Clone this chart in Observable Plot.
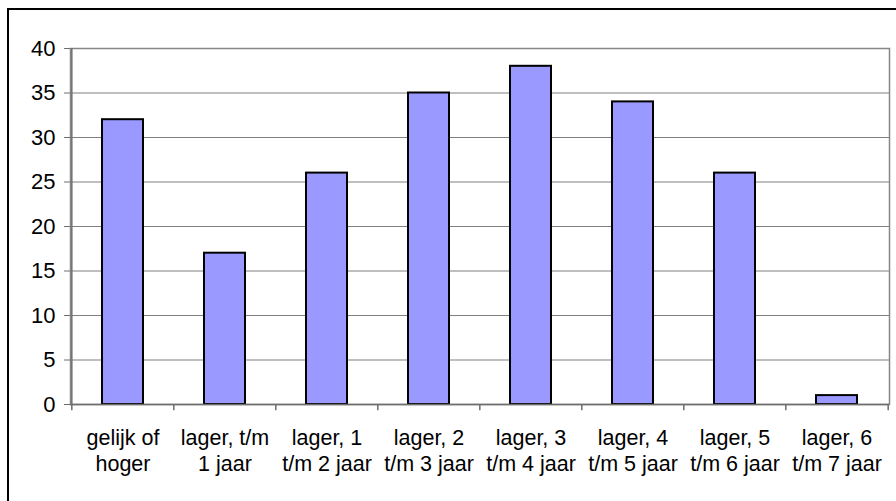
<!DOCTYPE html>
<html>
<head>
<meta charset="utf-8">
<script src="https://cdn.jsdelivr.net/npm/d3@7"></script>
<script src="https://cdn.jsdelivr.net/npm/@observablehq/plot@0.6"></script>
<style>
  html, body { margin: 0; padding: 0; background: #fff; overflow: hidden; }
  #wrap { position: relative; width: 896px; height: 501px; overflow: hidden; }
  #border { position: absolute; left: 7px; top: 8px; width: 1000px; height: 1000px;
            border-left: 2px solid #000; border-top: 2px solid #000; }
  #chart { position: absolute; left: 0; top: 0; }
</style>
</head>
<body>
<div id="wrap"><div id="border"></div><div id="chart"></div></div>
<script>
const categories = [
  "gelijk of\nhoger",
  "lager, t/m\n1 jaar",
  "lager, 1\nt/m 2 jaar",
  "lager, 2\nt/m 3 jaar",
  "lager, 3\nt/m 4 jaar",
  "lager, 4\nt/m 5 jaar",
  "lager, 5\nt/m 6 jaar",
  "lager, 6\nt/m 7 jaar"
];
const values = [32, 17, 26, 35, 38, 34, 26, 1];
const yTicks = [0, 5, 10, 15, 20, 25, 30, 35, 40];

const data = categories.map((c, i) => ({category: c, value: values[i]}));

const width = 896, height = 501;
const marginLeft = 70, marginRight = 7, marginTop = 48, marginBottom = 97;
const step = (width - marginLeft - marginRight) / categories.length;

const chart = Plot.plot({
  width, height, marginLeft, marginRight, marginTop, marginBottom,
  style: {fontFamily: "'Liberation Sans', Arial, sans-serif", fontSize: "21.5px", color: "#000", background: "transparent"},
  x: {domain: categories, paddingInner: 0.6, paddingOuter: 0.3, label: null},
  y: {domain: [0, 40], ticks: yTicks, label: null},
  marks: [
    Plot.ruleY(yTicks.filter(d => d > 0), {stroke: "#808080", strokeWidth: 1.2}),
    Plot.frame({stroke: "#868686", strokeWidth: 1.5}),
    Plot.barY(data, {x: "category", y: "value", fill: "#9999ff", stroke: "#000", strokeWidth: 2}),
    Plot.ruleY([0], {stroke: "#6e6e6e", strokeWidth: 1.5}),
    Plot.ruleX([categories[0]], {y1: 0, y2: 40, dx: -step / 2, stroke: "#6e6e6e", strokeWidth: 1.5}),
    Plot.ruleX(categories, {y1: 0, y2: -0.7, dx: -step / 2, stroke: "#6e6e6e", strokeWidth: 1.5}),
    Plot.ruleX([categories[categories.length - 1]], {y1: 0, y2: -0.7, dx: step / 2, stroke: "#6e6e6e", strokeWidth: 1.5}),
    Plot.axisY({ticks: yTicks, tickSize: 6, tickPadding: 9, stroke: "#6e6e6e", fontSize: 22}),
    Plot.axisX({tickSize: 0, tickPadding: 21, fontSize: 21.5, lineHeight: 1.25})
  ]
});
document.getElementById("chart").appendChild(chart);
</script>
</body>
</html>
